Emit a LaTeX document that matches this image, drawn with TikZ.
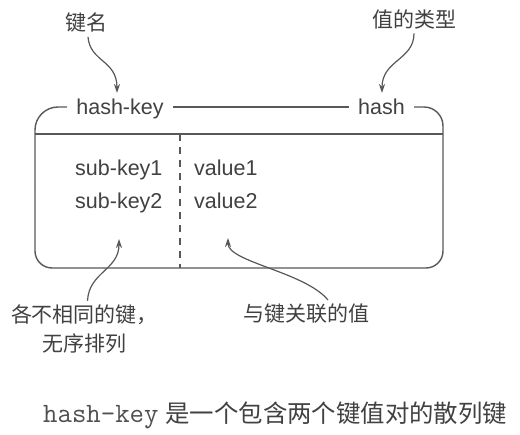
\documentclass[tikz,border=0pt]{standalone}
\usepackage{fontspec}
\setmainfont{Liberation Sans}
\newfontfamily\cjk{Noto Sans CJK SC}
\newfontfamily\capmono{Latin Modern Mono}
\usetikzlibrary{arrows.meta}
\definecolor{ink}{RGB}{65,65,65}
\definecolor{capink}{RGB}{80,80,80}
\definecolor{linec}{RGB}{88,88,88}
\begin{document}
\begin{tikzpicture}[x=1pt,y=-1pt,
  box/.style={draw=linec,line width=1.4pt},
  lab/.style={text=ink,font=\fontsize{21.5}{24}\selectfont,inner sep=0pt,anchor=base west},
  hdr/.style={text=ink,font=\fontsize{21.5}{24}\selectfont,inner xsep=9pt,inner ysep=0pt,anchor=base},
  note/.style={text=ink,font=\cjk\fontsize{21}{28.5}\selectfont,inner sep=4pt,align=center},
  conn/.style={draw=linec,line width=1.2pt,-{Stealth[length=9pt,width=6pt]}},
]
\useasboundingbox (0,0) rectangle (520,435);
\fill[white] (0,0) rectangle (520,435);

% header labels
\node[hdr] (hk) at (120,115) {hash-key};
\node[hdr] (hs) at (381.5,115) {hash};

% box geometry
\coordinate (hl) at (0,107);
\coordinate (tl) at (35,107);
\coordinate (tr) at (443,107);
\coordinate (bl) at (35,268);
\coordinate (br) at (443,268);
\coordinate (ml) at (35,134);
\coordinate (mr) at (443,134);
\coordinate (midl) at (35,190);
\coordinate (midr) at (443,190);
\coordinate (dt) at (180,134);
\coordinate (db) at (180,268);

\draw[box,rounded corners=23pt] (hk.west |- hl) -- (tl) -- (midl);
\draw[box] (hk.east |- hl) -- (hs.west |- hl);
\draw[box,rounded corners=19pt] (hs.east |- hl) -- (tr) -- (midr);
\draw[box,rounded corners=17pt] (midl) -- (bl) -- (br) -- (midr);
\draw[box] (ml) -- (mr);
\draw[box,dash pattern=on 7pt off 6pt] (dt) -- (db);

% contents
\node[lab] (sk1) at (75,176) {sub-key1};
\node[lab] (sk2) at (75,209) {sub-key2};
\node[lab] (v1) at (194,176) {value1};
\node[lab] (v2) at (194,209) {value2};

% annotations
\node[note] (kn) at (86,23) {键名};
\node[note] (vt) at (414,19.5) {值的类型};
\node[note] (dk) at (84.5,329) {各不相同的键，\\无序排列};
\node[note] (av) at (306,314) {与键关联的值};

\coordinate (t1) at (117,93);
\coordinate (t2) at (382,93);
\coordinate (t3) at (119,239);
\coordinate (t4) at (228,238);

\draw[conn] ([xshift=2pt]kn.south) .. controls (90,62) and (117,60) .. (t1);
\draw[conn] (vt.south) .. controls (414,60) and (382,60) .. (t2);
\draw[conn] ([xshift=3pt]dk.north) .. controls (89,272) and (119,270) .. (t3);
\draw[conn] ([xshift=22pt]av.north) .. controls (305,272) and (228,262) .. (t4);

% caption
\node[text=capink,anchor=base west,inner sep=0pt] (cap) at (43,423)
  {{\capmono\fontsize{28}{30}\selectfont hash-key}\hspace{7pt}{\cjk\fontsize{24.4}{26}\selectfont\color{ink} 是一个包含两个键值对的散列键}};
\end{tikzpicture}
\end{document}
